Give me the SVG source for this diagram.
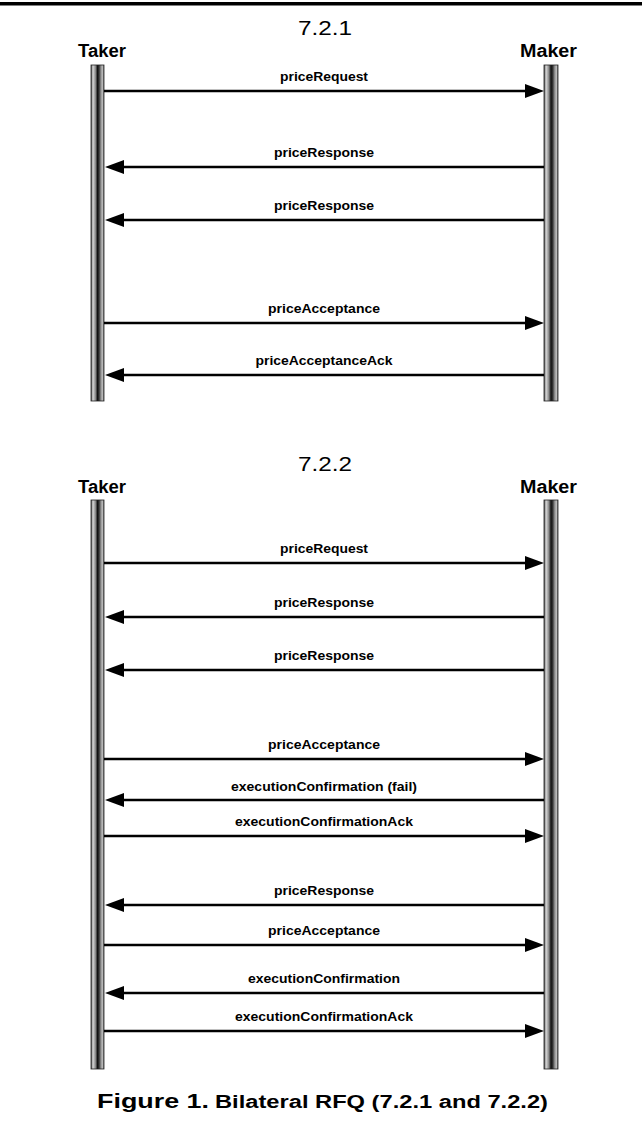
<svg xmlns="http://www.w3.org/2000/svg" width="642" height="1130" viewBox="0 0 642 1130">
<style>
.lbl{font-family:"Liberation Sans",Arial,sans-serif;font-weight:bold;font-size:12.5px;fill:#000;text-anchor:middle}
.actor{font-family:"Liberation Sans",Arial,sans-serif;font-weight:bold;font-size:18px;fill:#000}
.title{font-family:"Liberation Sans",Arial,sans-serif;font-size:21px;fill:#000;text-anchor:middle}
.cap1{font-family:"Liberation Sans",Arial,sans-serif;font-weight:bold;font-size:21px;fill:#000}
.cap2{font-family:"Liberation Sans",Arial,sans-serif;font-weight:bold;font-size:18px;fill:#000}
.msg{stroke:#000;stroke-width:2.5;fill:none;marker-end:url(#ah)}
.bar{fill:url(#barg);stroke:#222;stroke-width:0.8}
</style>
<defs>
<linearGradient id="barg" x1="0" y1="0" x2="1" y2="0">
<stop offset="0" stop-color="#444"/>
<stop offset="0.15" stop-color="#d8d8d8"/>
<stop offset="0.35" stop-color="#888"/>
<stop offset="0.5" stop-color="#111"/>
<stop offset="0.62" stop-color="#333"/>
<stop offset="0.78" stop-color="#999"/>
<stop offset="0.9" stop-color="#bbb"/>
<stop offset="1" stop-color="#555"/>
</linearGradient>
<marker id="ah" markerUnits="userSpaceOnUse" markerWidth="19" markerHeight="14" refX="9" refY="7" orient="auto" overflow="visible">
<path d="M0,0 L19,7 L0,14 Z" fill="#000"/>
</marker>
</defs>
<rect x="0" y="2" width="642" height="3.5" fill="#000"/>

<g id="diagram1">
<text class="title" x="325" y="35" textLength="54" lengthAdjust="spacingAndGlyphs">7.2.1</text>
<g id="taker1">
<text class="actor" x="78" y="57" textLength="48" lengthAdjust="spacingAndGlyphs">Taker</text>
<rect class="bar" x="91" y="65" width="13" height="336"/>
</g>
<g id="maker1">
<text class="actor" x="520" y="57" textLength="57" lengthAdjust="spacingAndGlyphs">Maker</text>
<rect class="bar" x="544" y="65" width="14" height="336"/>
</g>
<g id="connectors1">
<line class="msg" x1="104" y1="91" x2="534" y2="91"/>
<text class="lbl" x="324" y="81" textLength="88" lengthAdjust="spacingAndGlyphs">priceRequest</text>
<line class="msg" x1="544" y1="167" x2="115" y2="167"/>
<text class="lbl" x="324" y="157" textLength="100" lengthAdjust="spacingAndGlyphs">priceResponse</text>
<line class="msg" x1="544" y1="220" x2="115" y2="220"/>
<text class="lbl" x="324" y="210" textLength="100" lengthAdjust="spacingAndGlyphs">priceResponse</text>
<line class="msg" x1="104" y1="323" x2="534" y2="323"/>
<text class="lbl" x="324" y="313" textLength="112" lengthAdjust="spacingAndGlyphs">priceAcceptance</text>
<line class="msg" x1="544" y1="375" x2="115" y2="375"/>
<text class="lbl" x="324" y="365" textLength="137" lengthAdjust="spacingAndGlyphs">priceAcceptanceAck</text>
</g>
</g>

<g id="diagram2">
<text class="title" x="325" y="471" textLength="54" lengthAdjust="spacingAndGlyphs">7.2.2</text>
<g id="taker2">
<text class="actor" x="78" y="493" textLength="48" lengthAdjust="spacingAndGlyphs">Taker</text>
<rect class="bar" x="91" y="500" width="13" height="569"/>
</g>
<g id="maker2">
<text class="actor" x="520" y="493" textLength="57" lengthAdjust="spacingAndGlyphs">Maker</text>
<rect class="bar" x="544" y="500" width="14" height="569"/>
</g>
<g id="connectors2">
<line class="msg" x1="104" y1="563" x2="534" y2="563"/>
<text class="lbl" x="324" y="553" textLength="88" lengthAdjust="spacingAndGlyphs">priceRequest</text>
<line class="msg" x1="544" y1="617" x2="115" y2="617"/>
<text class="lbl" x="324" y="607" textLength="100" lengthAdjust="spacingAndGlyphs">priceResponse</text>
<line class="msg" x1="544" y1="670" x2="115" y2="670"/>
<text class="lbl" x="324" y="660" textLength="100" lengthAdjust="spacingAndGlyphs">priceResponse</text>
<line class="msg" x1="104" y1="759" x2="534" y2="759"/>
<text class="lbl" x="324" y="749" textLength="112" lengthAdjust="spacingAndGlyphs">priceAcceptance</text>
<line class="msg" x1="544" y1="800" x2="115" y2="800"/>
<text class="lbl" x="324" y="791" textLength="186" lengthAdjust="spacingAndGlyphs">executionConfirmation (fail)</text>
<line class="msg" x1="104" y1="836" x2="534" y2="836"/>
<text class="lbl" x="324" y="826" textLength="178" lengthAdjust="spacingAndGlyphs">executionConfirmationAck</text>
<line class="msg" x1="544" y1="905" x2="115" y2="905"/>
<text class="lbl" x="324" y="895" textLength="100" lengthAdjust="spacingAndGlyphs">priceResponse</text>
<line class="msg" x1="104" y1="945" x2="534" y2="945"/>
<text class="lbl" x="324" y="935" textLength="112" lengthAdjust="spacingAndGlyphs">priceAcceptance</text>
<line class="msg" x1="544" y1="993" x2="115" y2="993"/>
<text class="lbl" x="324" y="983" textLength="152" lengthAdjust="spacingAndGlyphs">executionConfirmation</text>
<line class="msg" x1="104" y1="1031" x2="534" y2="1031"/>
<text class="lbl" x="324" y="1021" textLength="178" lengthAdjust="spacingAndGlyphs">executionConfirmationAck</text>
</g>
</g>

<g id="caption">
<text class="cap1" x="97" y="1108" textLength="112" lengthAdjust="spacingAndGlyphs">Figure 1.</text>
<text class="cap2" x="215" y="1108" textLength="333" lengthAdjust="spacingAndGlyphs">Bilateral RFQ (7.2.1 and 7.2.2)</text>
</g>
</svg>
